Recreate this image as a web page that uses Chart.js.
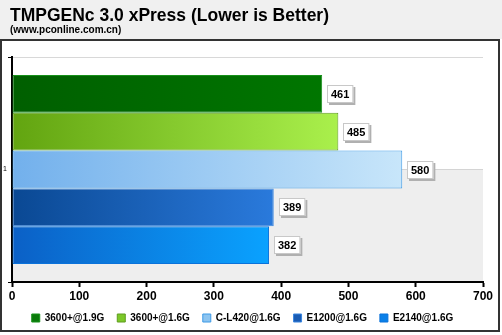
<!DOCTYPE html>
<html>
<head>
<meta charset="utf-8">
<script src="https://cdn.jsdelivr.net/npm/chart.js@4"></script>
<style>
  html, body { margin: 0; padding: 0; background: #fff; }
  #wrap { width: 502px; height: 335px; }
</style>
</head>
<body>
<div id="wrap"><canvas id="benchChart" width="502" height="335"></canvas></div>
<script>
const titleText = "TMPGENc 3.0 xPress (Lower is Better)";
const subText = "(www.pconline.com.cn)";

const categories = ["1"];
const seriesNames = ["3600+@1.9G", "3600+@1.6G", "C-L420@1.6G", "E1200@1.6G", "E2140@1.6G"];
const seriesValues = [461, 485, 580, 389, 382];
const xTicks = [0, 100, 200, 300, 400, 500, 600, 700];

// left / right gradient colours, border and legend colour for each series
const leftColors = ["#005f00", "#62a410", "#72b0ec", "#0a4893", "#0b60c6"];
const rightColors = ["#007600", "#aaf04c", "#c8e6fa", "#2a7adc", "#0aa2ff"];
const borderColors = ["#17911a", "#5e9c1e", "#3d9ae6", "#3a86e0", "#0a72da"];
const legendColors = ["#0a7a0a", "#7cc828", "#8cc4f0", "#1a5cb4", "#0a80e8"];

function barFill(i) {
    return (ctx) => {
        const chart = ctx.chart;
        const area = chart.chartArea;
        const xs = chart.scales.x;
        if (!area || !xs || ctx.raw === undefined) return legendColors[i];
        const end = xs.getPixelForValue(ctx.raw);
        const g = chart.ctx.createLinearGradient(area.left, 0, end, 0);
        g.addColorStop(0, leftColors[i]);
        g.addColorStop(1, rightColors[i]);
        return g;
    };
}

// frame, title band and the grey lower wall
const framePlugin = {
    id: "frame",
    beforeDraw(chart) {
        const c = chart.ctx;
        const a = chart.chartArea;
        c.save();
        c.fillStyle = "#fff";
        c.fillRect(0, 0, chart.width, chart.height);
        c.fillStyle = "#f0f0f0";
        c.fillRect(0, 0, chart.width, 39);
        c.fillStyle = "#333";
        c.fillRect(0, 39, 500, 2);
        c.fillRect(0, 39, 2, 293);
        c.fillRect(498, 39, 2, 293);
        c.fillRect(0, 330, 500, 2);

        c.fillStyle = "#000";
        c.textBaseline = "alphabetic";
        c.font = "bold 17.5px Arial, 'Liberation Sans'";
        c.fillText(titleText, 10, 21);
        c.font = "bold 10px Arial, 'Liberation Sans'";
        c.fillText(subText, 10, 33);

        const mid = chart.scales.y.getPixelForValue(0);
        c.fillStyle = "#eeeeee";
        c.fillRect(a.left, mid, a.right - a.left, a.bottom - mid);
        c.fillStyle = "#d4d4d4";
        c.fillRect(a.left, mid - 0.5, a.right - a.left, 1);
        c.restore();
    }
};

// value boxes right of each bar
const valuePlugin = {
    id: "values",
    afterDatasetsDraw(chart) {
        const c = chart.ctx;
        c.save();
        c.font = "bold 11px Arial, 'Liberation Sans'";
        chart.data.datasets.forEach((ds, i) => {
            const bar = chart.getDatasetMeta(i).data[0];
            const txt = String(ds.data[0]);
            const w = c.measureText(txt).width + 8;
            const h = 18;
            const x = Math.round(bar.x) + 5;
            const y = Math.round(bar.y - h / 2);
            c.fillStyle = "#b0b0b0";
            c.fillRect(x + 2, y + 2, w, h);
            c.fillStyle = "#fff";
            c.fillRect(x, y, w, h);
            c.strokeStyle = "#c8c8c8";
            c.lineWidth = 1;
            c.strokeRect(x + 0.5, y + 0.5, w - 1, h - 1);
            c.fillStyle = "#000";
            c.textAlign = "center";
            c.textBaseline = "middle";
            c.fillText(txt, x + w / 2, y + h / 2 + 1);
        });
        c.restore();
    }
};

const datasets = seriesNames.map((name, i) => ({
    label: name,
    data: [seriesValues[i]],
    backgroundColor: barFill(i),
    borderColor: borderColors[i],
    borderWidth: 1,
    borderSkipped: false,
    categoryPercentage: 0.84,
    barPercentage: 1
}));

new Chart(document.getElementById("benchChart"), {
    type: "bar",
    data: { labels: categories, datasets },
    options: {
        indexAxis: "y",
        responsive: false,
        animation: false,
        layout: { padding: { top: 57, left: 2, right: 19, bottom: 2 } },
        scales: {
            x: {
                min: 0,
                max: 700,
                afterBuildTicks: (scale) => { scale.ticks = xTicks.map(v => ({ value: v })); },
                afterFit: (scale) => { scale.height = 18; },
                ticks: {
                    color: "#000",
                    padding: 2,
                    font: { family: "Arial, 'Liberation Sans'", size: 12, weight: "bold" }
                },
                grid: { drawOnChartArea: false, tickLength: 5, tickColor: "#000", tickWidth: 2 },
                border: { color: "#000", width: 2 }
            },
            y: {
                afterFit: (scale) => { scale.width = 10; },
                ticks: {
                    color: "#000",
                    padding: 1,
                    font: { family: "Arial, 'Liberation Sans'", size: 7 }
                },
                grid: { color: "#d8d8d8", tickLength: 4, tickColor: "#000", offset: true },
                border: { color: "#000", width: 2 }
            }
        },
        plugins: {
            legend: {
                position: "bottom",
                labels: {
                    boxWidth: 8,
                    boxHeight: 8,
                    padding: 13,
                    color: "#000",
                    font: { family: "Arial, 'Liberation Sans'", size: 10, weight: "bold" },
                    generateLabels: (chart) => chart.data.datasets.map((ds, i) => ({
                        text: ds.label,
                        fillStyle: legendColors[i],
                        strokeStyle: borderColors[i],
                        lineWidth: 1,
                        datasetIndex: i
                    }))
                }
            },
            tooltip: { enabled: false },
            title: { display: false }
        }
    },
    plugins: [framePlugin, valuePlugin]
});
</script>
</body>
</html>
